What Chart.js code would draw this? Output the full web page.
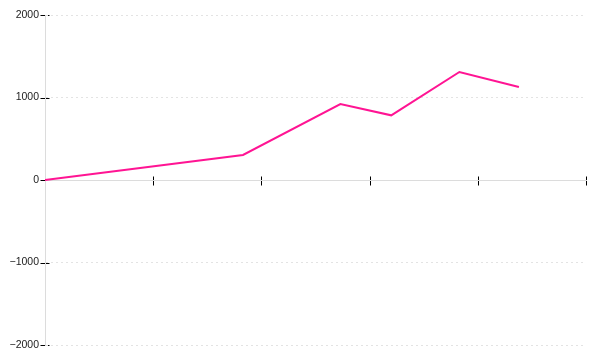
<!DOCTYPE html>
<html>
<head>
  <meta charset="UTF-8">
  <script src="https://cdn.jsdelivr.net/npm/chart.js"></script>
  <style>
    html, body { margin: 0; padding: 0; background: #fff; }
    #wrap { width: 600px; height: 360px; }
  </style>
</head>
<body>
  <div id="wrap"><canvas id="grafico"></canvas></div>

  <script>
    // dados
    const xValores = [0, 183, 273, 320, 383, 438];
    const yValores = [0, 303, 921, 784, 1309, 1127];
    const yTicks = [-2000, -1000, 0, 1000, 2000];
    const xTicks = [0, 100, 200, 300, 400, 500];

    // marcas dos eixos cruzando a linha do eixo (desenhadas antes das escalas)
    const marcasEixos = {
      id: 'marcasEixos',
      beforeDraw(chart) {
        const ctx = chart.ctx;
        const xs = chart.scales.x;
        const ys = chart.scales.y;
        const y0 = Math.round(ys.getPixelForValue(0)) + 0.5;
        const x0 = Math.round(xs.left) + 0.5;
        ctx.save();
        ctx.strokeStyle = '#000';
        ctx.lineWidth = 1;
        ctx.beginPath();
        xs.ticks.forEach((t, i) => {
          const px = Math.round(xs.getPixelForTick(i)) + 0.5;
          ctx.moveTo(px, y0 - 4);
          ctx.lineTo(px, y0 + 5);
        });
        ys.ticks.forEach((t, i) => {
          const py = Math.round(ys.getPixelForTick(i)) + 0.5;
          ctx.moveTo(x0 - 5, py);
          ctx.lineTo(x0 + 4, py);
        });
        ctx.stroke();
        ctx.restore();
      }
    };

    function gerarGrafico() {
      const ctx = document.getElementById('grafico').getContext('2d');
      new Chart(ctx, {
        type: 'line',
        data: {
          datasets: [{
            data: xValores.map((x, i) => ({ x: x, y: yValores[i] })),
            borderColor: '#ff1493',
            borderWidth: 2,
            pointRadius: 0,
            tension: 0,
            fill: false
          }]
        },
        options: {
          responsive: true,
          maintainAspectRatio: false,
          animation: false,
          layout: { padding: { top: 15, bottom: 15, right: 14, left: 0 } },
          plugins: { legend: { display: false }, tooltip: { enabled: false } },
          scales: {
            x: {
              type: 'linear',
              position: { y: 0 },
              min: 0,
              max: 500,
              afterBuildTicks: (s) => { s.ticks = xTicks.map(v => ({ value: v })); },
              ticks: { display: false },
              grid: { display: false },
              border: { display: true, color: '#dcdcdc', width: 1 }
            },
            y: {
              min: -2000,
              max: 2000,
              afterBuildTicks: (s) => { s.ticks = yTicks.map(v => ({ value: v })); },
              afterFit: (s) => { s.width = 45; },
              ticks: {
                padding: 6,
                color: '#222',
                font: { family: 'Liberation Sans', size: 10.5 },
                callback: (v) => (v < 0 ? '\u2212' + Math.abs(v) : String(v))
              },
              grid: {
                drawTicks: false,
                color: (c) => (c.tick && c.tick.value === 0 ? 'rgba(0,0,0,0)' : '#e3e3e3')
              },
              border: { display: true, color: '#dcdcdc', width: 1, dash: [2, 3] }
            }
          }
        },
        plugins: [marcasEixos]
      });
    }

    document.addEventListener('DOMContentLoaded', gerarGrafico);
  </script>
</body>
</html>
